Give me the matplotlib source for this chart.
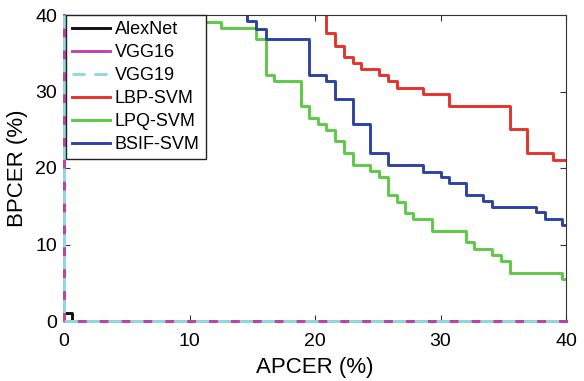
import matplotlib
matplotlib.use("Agg")
import matplotlib.pyplot as plt

plt.rcParams['font.family'] = ['Liberation Sans', 'DejaVu Sans']

# AlexNet / VGG curves (APCER %, BPCER %)
alex_x = [0.0, 0.0, 0.6, 40.0]
alex_y = [40.0, 1.0, 0.0, 0.0]
vgg16_x = [0.0, 0.0, 40.0]
vgg16_y = [40.0, 0.0, 0.0]
vgg19_x = [0.0, 0.0, 40.0]
vgg19_y = [40.0, 0.0, 0.0]

lbp_x = [20.9, 20.9, 21.6, 22.3, 23.0, 23.7, 25.1, 25.8, 26.5, 28.6, 30.7, 35.5, 36.9, 39.0, 40.0]
lbp_y = [40.0, 37.6, 36.0, 34.5, 33.7, 32.9, 32.1, 31.4, 30.5, 29.7, 28.1, 25.1, 21.9, 21.1, 21.1]

lpq_x = [10.4, 10.4, 12.5, 15.3, 16.1, 16.7, 18.9, 19.5, 20.2, 20.9, 21.6, 22.3, 23.0, 24.4, 25.1,
         25.8, 26.5, 27.2, 27.8, 29.3, 32.0, 32.7, 34.1, 34.8, 35.5, 39.7, 40.0]
lpq_y = [40.0, 39.1, 38.3, 36.8, 32.1, 31.4, 28.1, 26.6, 25.8, 25.0, 23.5, 21.9, 20.4, 19.6, 18.8,
         16.5, 15.6, 14.1, 13.3, 11.8, 10.3, 9.4, 8.6, 7.9, 6.3, 5.5, 5.5]

bsif_x = [14.6, 14.6, 15.3, 16.1, 19.5, 20.9, 21.6, 23.0, 24.4, 25.8, 28.6, 30.0, 30.7, 32.0, 33.4,
          34.1, 37.6, 38.3, 39.7, 40.0]
bsif_y = [40.0, 39.2, 38.2, 36.8, 32.1, 31.4, 29.0, 25.8, 21.9, 20.4, 19.5, 18.8, 18.0, 16.5, 15.7,
          14.9, 14.2, 13.3, 12.5, 12.5]

x_ticks = [0, 10, 20, 30, 40]
y_ticks = [0, 10, 20, 30, 40]

fig = plt.figure(figsize=(5.84, 3.81), dpi=100)
ax = fig.add_axes([64/584, 60/381, 502/584, 306/381])

lw = 2.1
ax.plot(alex_x, alex_y, drawstyle='steps-post', color='#111111', lw=lw, label='AlexNet',
        clip_on=False, zorder=3)
ax.plot(vgg16_x, vgg16_y, drawstyle='steps-post', color='#c043b0', lw=lw, label='VGG16',
        clip_on=False, zorder=3.1)
ax.plot(vgg19_x, vgg19_y, drawstyle='steps-post', color='#8fdcd8', lw=lw, ls=(0, (4.5, 3)),
        label='VGG19', clip_on=False, zorder=3.2)
ax.plot(lbp_x, lbp_y, drawstyle='steps-post', color='#e5322b', lw=lw, label='LBP-SVM')
ax.plot(lpq_x, lpq_y, drawstyle='steps-post', color='#5dc946', lw=lw, label='LPQ-SVM')
ax.plot(bsif_x, bsif_y, drawstyle='steps-post', color='#2c43a1', lw=lw, label='BSIF-SVM')

ax.set_xlim(0, 40)
ax.set_ylim(0, 40)
ax.set_xticks(x_ticks)
ax.set_yticks(y_ticks)
ax.tick_params(direction='in', top=True, right=True, labelsize=14, length=4, width=0.8,
               colors='#333333', labelcolor='black')
ax.tick_params(axis='x', pad=9)
ax.tick_params(axis='y', pad=5)
for s in ax.spines.values():
    s.set_color('#333333')
    s.set_linewidth(0.8)
ax.set_xlabel('APCER (%)', fontsize=16, labelpad=5)
ax.set_ylabel('BPCER (%)', fontsize=16, labelpad=5)

leg = ax.legend(loc='upper left', bbox_to_anchor=(0.004, 1.0), fontsize=13, frameon=True, fancybox=False,
                edgecolor='#222222', framealpha=1.0, borderaxespad=0.0, handlelength=2.1,
                labelspacing=0.33, borderpad=0.35, handletextpad=0.25)
leg.get_frame().set_linewidth(1.0)
leg.set_zorder(10)

fig.savefig('out.png', dpi=100)
